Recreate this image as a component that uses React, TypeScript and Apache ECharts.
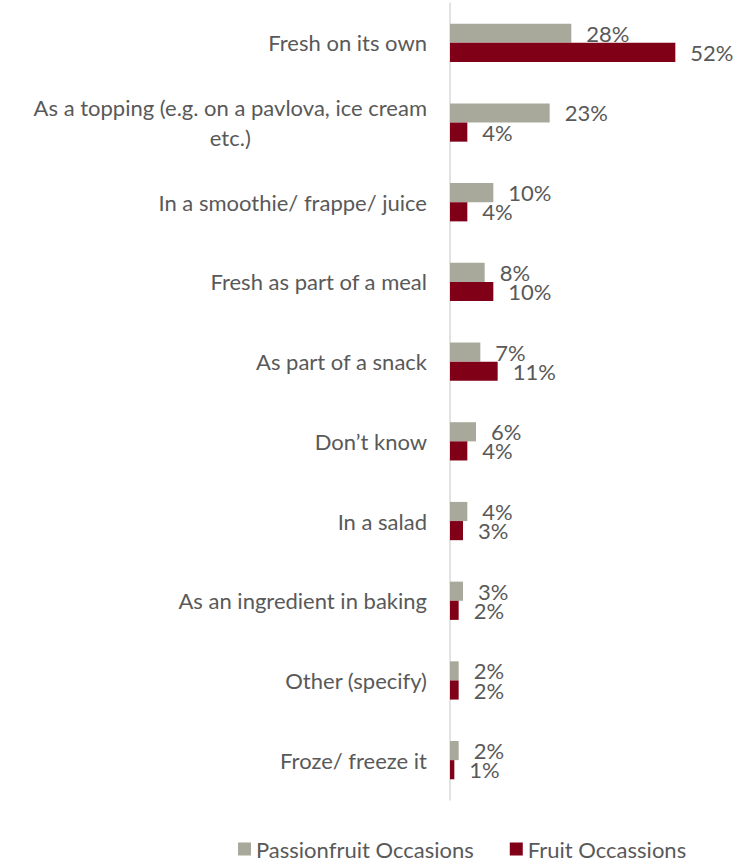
import React, { useEffect, useRef } from "react";
import * as echarts from "echarts";

const categories = [
  "Fresh on its own",
  "As a topping (e.g. on a pavlova, ice cream\netc.)",
  "In a smoothie/ frappe/ juice",
  "Fresh as part of a meal",
  "As part of a snack",
  "Don\u2019t know",
  "In a salad",
  "As an ingredient in baking",
  "Other (specify)",
  "Froze/ freeze it",
];
const passionfruitValues = [28, 23, 10, 8, 7, 6, 4, 3, 2, 2];
const fruitValues = [52, 4, 4, 10, 11, 4, 3, 2, 2, 1];
const seriesNames = ["Passionfruit Occasions", "Fruit Occassions"];

const FONT = "Lato";
const TEXT_COLOR = "#595959";

export default function App() {
  const ref = useRef<HTMLDivElement>(null);
  useEffect(() => {
    if (!ref.current) return;
    const chart = echarts.init(ref.current, null, { renderer: "svg" });
    const labelStyle = {
      show: true,
      position: "right" as const,
      distance: 15,
      formatter: "{c}%",
      color: TEXT_COLOR,
      fontSize: 22,
      lineHeight: 18,
      fontFamily: FONT,
    };
    chart.setOption({
      animation: false,
      textStyle: { fontFamily: FONT },
      grid: { left: 450, right: 33, top: 3, bottom: 63, containLabel: false },
      legend: {
        left: 233,
        top: 833,
        itemWidth: 13,
        itemHeight: 13,
        itemGap: 36,
        icon: "rect",
        textStyle: { color: TEXT_COLOR, fontSize: 22, fontFamily: FONT },
        data: seriesNames,
      },
      xAxis: {
        type: "value",
        min: 0,
        max: 60,
        show: false,
        splitLine: { show: false },
      },
      yAxis: {
        type: "category",
        inverse: true,
        data: categories,
        axisLine: { show: true, lineStyle: { color: "#d9d9d9", width: 1.5 } },
        axisTick: { show: false },
        axisLabel: {
          margin: 23,
          color: TEXT_COLOR,
          fontSize: 22,
          fontFamily: FONT,
          lineHeight: 30,
          formatter: (v: string) => {
            const parts = v.split("\n");
            if (parts.length < 2) return v;
            return `{a|${parts[0]}}\n{b|${parts[1]}}`;
          },
          rich: {
            a: { color: TEXT_COLOR, fontSize: 22, fontFamily: FONT, lineHeight: 30, align: "right" },
            b: { color: TEXT_COLOR, fontSize: 22, fontFamily: FONT, lineHeight: 30, align: "center" },
          },
        },
      },
      series: [
        {
          name: seriesNames[0],
          type: "bar",
          data: passionfruitValues,
          itemStyle: { color: "#a8a99b" },
          barGap: "0%",
          barCategoryGap: "52%",
          label: labelStyle,
        },
        {
          name: seriesNames[1],
          type: "bar",
          data: fruitValues,
          itemStyle: { color: "#800018" },
          barGap: "0%",
          barCategoryGap: "52%",
          label: labelStyle,
        },
      ],
    });
    return () => chart.dispose();
  }, []);
  return <div ref={ref} style={{ width: 743, height: 863, position: "absolute", left: 0, top: 0 }} />;
}
